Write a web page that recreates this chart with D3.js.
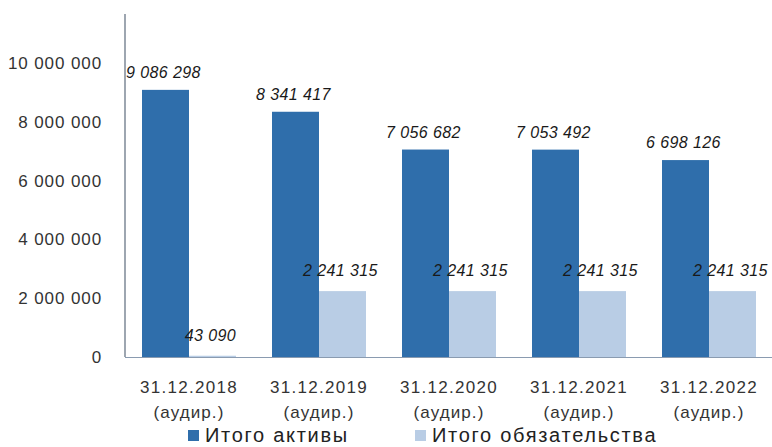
<!DOCTYPE html>
<html>
<head>
<meta charset="utf-8">
<script src="https://cdn.jsdelivr.net/npm/d3@7"></script>
<style>
  body { margin: 0; background: #fff; }
  svg { display: block; font-family: "Liberation Sans", Arial, sans-serif; }
</style>
</head>
<body>
<svg id="chart" width="772" height="447"></svg>
<script>
// chart data
var dates = ["31.12.2018", "31.12.2019", "31.12.2020", "31.12.2021", "31.12.2022"];
var subLabel = "(аудир.)";
var seriesNames = ["Итого активы", "Итого обязательства"];
var assets = [9086298, 8341417, 7056682, 7053492, 6698126];
var liabilities = [43090, 2241315, 2241315, 2241315, 2241315];
var yTicks = [0, 2000000, 4000000, 6000000, 8000000, 10000000];
var colors = ["#2f6eab", "#b9cde5"];

var svg = d3.select("#chart");

var fmt = function (v) {
    return d3.format(",")(v).replace(/,/g, " ");
};

var y = d3.scaleLinear().domain([0, 10000000]).range([357, 63]);
var x = d3.scaleBand().domain(dates).range([124, 774]).paddingInner(0.277).paddingOuter(0.1385);
var xs = d3.scaleBand().domain([0, 1]).range([0, x.bandwidth()]);

var rows = dates.map(function (d, i) {
    return { date: d, values: [assets[i], liabilities[i]] };
});

// y axis
var yAxis = svg.append("g")
    .attr("transform", "translate(125,0)")
    .call(d3.axisLeft(y).tickValues(yTicks).tickSize(0).tickPadding(23).tickFormat(fmt));
yAxis.select(".domain").remove();
yAxis.selectAll("text")
    .attr("fill", "#333")
    .style("font-size", "17px")
    .style("letter-spacing", "0.9px")
    .style("font-family", "Liberation Sans, Arial, sans-serif");

svg.append("line")
    .attr("x1", 125).attr("x2", 125)
    .attr("y1", 14).attr("y2", y(0))
    .attr("stroke", "#5d6b7c").attr("stroke-width", 1.2);

// bars
var groups = svg.selectAll(".grp").data(rows).enter().append("g")
    .attr("class", "grp")
    .attr("transform", function (d) { return "translate(" + x(d.date) + ",0)"; });

groups.selectAll("rect").data(function (d) { return d.values; }).enter().append("rect")
    .attr("x", function (d, i) { return xs(i); })
    .attr("width", xs.bandwidth())
    .attr("y", function (d) { return y(d); })
    .attr("height", function (d) { return y(0) - y(d); })
    .attr("fill", function (d, i) { return colors[i]; });

// x axis line
svg.append("line")
    .attr("x1", 125).attr("x2", 772)
    .attr("y1", y(0) + 0.5).attr("y2", y(0) + 0.5)
    .attr("stroke", "#8a9bb0").attr("stroke-width", 1.2);

// value labels
groups.selectAll(".val").data(function (d) { return d.values; }).enter().append("text")
    .attr("class", "val")
    .attr("x", function (d, i) { return xs(i) + xs.bandwidth() / 2 - 2; })
    .attr("y", function (d, i) { return y(d) - (i === 0 ? 12 : 15); })
    .attr("text-anchor", "middle")
    .attr("fill", "#1a1a1a")
    .style("font-size", "16px")
    .style("letter-spacing", "0.4px")
    .style("font-style", "italic")
    .text(function (d) { return fmt(d); });

// category labels
groups.append("text")
    .attr("x", x.bandwidth() / 2)
    .attr("y", 393)
    .attr("text-anchor", "middle")
    .attr("fill", "#333")
    .style("font-size", "17px")
    .style("letter-spacing", "1.3px")
    .text(function (d) { return d.date; });
groups.append("text")
    .attr("x", x.bandwidth() / 2)
    .attr("y", 418)
    .attr("text-anchor", "middle")
    .attr("fill", "#333")
    .style("font-size", "17px")
    .style("letter-spacing", "1.1px")
    .text(subLabel);

// legend
var legendX = [188, 415];
var legend = svg.selectAll(".leg").data(seriesNames).enter().append("g")
    .attr("class", "leg")
    .attr("transform", function (d, i) { return "translate(" + legendX[i] + ",0)"; });
legend.append("rect")
    .attr("x", 0).attr("y", 430).attr("width", 11).attr("height", 11)
    .attr("fill", function (d, i) { return colors[i]; });
legend.append("text")
    .attr("x", 17).attr("y", 442)
    .attr("fill", "#222")
    .style("font-size", "20px")
    .style("letter-spacing", "1.7px")
    .text(function (d) { return d; });
</script>
</body>
</html>
